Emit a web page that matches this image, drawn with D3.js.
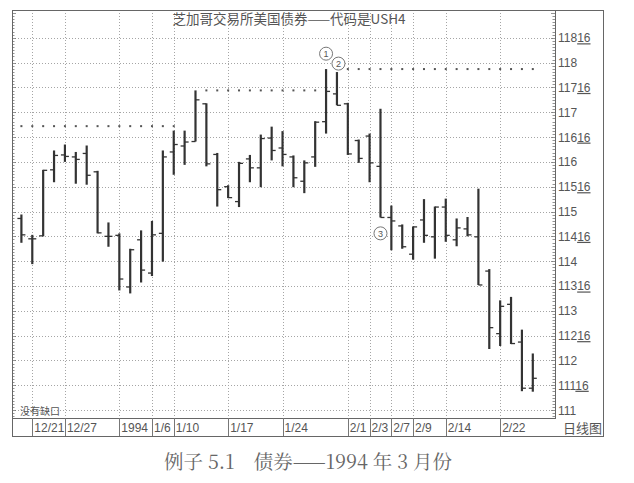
<!DOCTYPE html>
<html><head><meta charset="utf-8">
<script src="https://cdn.jsdelivr.net/npm/d3@7"></script>
<style>body{margin:0;background:#fff}svg{display:block}</style>
</head><body><svg id="c" width="634" height="483"></svg>
<script>
const dates = ["12/20","12/21","12/22","12/23","12/27","12/28","12/29","12/30","12/31","1/3","1/4","1/5","1/6","1/7","1/10","1/11","1/12","1/13","1/14","1/17","1/18","1/19","1/20","1/21","1/24","1/25","1/26","1/27","1/28","1/31","2/1","2/2","2/3","2/4","2/7","2/8","2/9","2/10","2/11","2/14","2/15","2/16","2/17","2/18","2/22","2/23","2/24","2/25"];
const highs = [114.94,114.53,115.84,116.23,116.35,116.20,116.33,115.82,114.78,114.56,114.25,114.62,114.81,116.23,116.63,116.63,117.44,117.18,116.18,115.53,116.00,116.14,116.55,116.71,116.62,116.13,116.03,116.82,117.87,117.81,117.19,116.45,116.57,117.07,115.12,114.74,114.70,115.25,115.10,115.26,114.86,114.89,115.46,113.84,113.21,113.28,112.62,112.14];
const lows = [114.37,113.94,114.50,115.59,116.00,115.56,115.54,114.56,114.29,113.41,113.35,113.57,113.70,113.99,115.74,115.94,116.41,115.91,115.10,115.27,115.09,115.59,115.49,116.03,115.91,115.49,115.37,115.90,116.57,117.14,116.14,115.98,115.59,114.88,114.22,114.25,114.03,114.37,114.05,114.39,114.30,114.50,113.52,112.23,112.29,112.33,111.38,111.37];
const opens = [114.86,114.45,114.51,115.84,116.14,116.10,116.17,115.80,114.50,114.52,113.48,114.43,113.76,114.56,116.20,116.32,116.41,117.17,116.15,115.50,115.20,116.06,115.88,116.48,116.28,116.10,115.61,116.10,116.81,117.37,117.17,116.43,116.52,115.91,114.88,114.71,114.14,114.83,114.49,115.09,114.43,114.65,114.49,113.80,112.54,113.13,112.37,111.44];
const closes = [114.53,114.45,115.83,116.13,116.11,116.05,115.73,114.57,114.50,113.64,114.23,113.82,114.53,116.10,116.35,116.40,117.25,115.96,115.44,115.28,115.97,115.88,116.47,116.23,116.15,115.68,115.98,116.80,117.42,117.14,116.16,116.07,115.98,114.88,114.81,114.29,114.69,114.52,115.09,114.52,114.67,114.53,113.52,112.66,113.09,112.34,111.44,111.64];
const tickDates = ["12/21","12/27","1/3","1/6","1/10","1/17","1/24","2/1","2/3","2/7","2/9","2/14","2/22"];
const tickLabels = ["12/21","12/27","1994","1/6","1/10","1/17","1/24","2/1","2/3","2/7","2/9","2/14","2/22"];
const yTicks = [111,111.5,112,112.5,113,113.5,114,114.5,115,115.5,116,116.5,117,117.5,118,118.5];
const resistLevels = [116.72,117.44,117.87];
const resistFrom = ["12/20","1/13","2/1"];
const resistTo = ["1/10","1/27","2/25"];
const markerLabels = ["1","2","3"];
const markerDates = ["1/28","1/31","2/4"];
const markerPrices = [118.18,117.98,114.56];
const titleText = "芝加哥交易所美国债券——代码是USH4";
const noteText = "没有缺口";
const periodText = "日线图";
const captionText = "例子 5.1　债券——1994 年 3 月份";

const svg = d3.select("#c");
const L = 12, R = 555, T = 10, B = 418, FR = 603, FB = 436;
const x = d3.scaleLinear().domain([-0.864, 49.04]).range([L, R]);
const y = d3.scaleLinear().domain([110.84, 119.06]).range([B, T]);
const xd = d => x(dates.indexOf(d));
const ink = "#333", txt = "#555", grid = "#a5a5a5";

// grid
svg.append("g").selectAll("line").data(yTicks).join("line")
  .attr("x1", L).attr("x2", R).attr("y1", d => Math.round(y(d)) + 0.5).attr("y2", d => Math.round(y(d)) + 0.5)
  .attr("stroke", grid).attr("stroke-width", 1).attr("stroke-dasharray", "1,2");
svg.append("g").selectAll("line").data(tickDates).join("line")
  .attr("x1", d => Math.round(xd(d)) + 0.5).attr("x2", d => Math.round(xd(d)) + 0.5).attr("y1", T).attr("y2", B)
  .attr("stroke", grid).attr("stroke-width", 1).attr("stroke-dasharray", "1,2");

// minor ticks on both vertical axes
const minor = d3.range(Math.ceil(110.84 * 16), Math.floor(119.06 * 16) + 1).map(v => v / 16);
svg.append("g").selectAll("line").data(minor).join("line")
  .attr("x1", R).attr("x2", d => R - (d % 0.5 === 0 ? 4 : 2.5))
  .attr("y1", d => Math.round(y(d)) + 0.5).attr("y2", d => Math.round(y(d)) + 0.5)
  .attr("stroke", "#777").attr("stroke-width", 0.8);
svg.append("g").selectAll("line").data(minor).join("line")
  .attr("x1", L).attr("x2", d => L + (d % 0.5 === 0 ? 4 : 2.5))
  .attr("y1", d => Math.round(y(d)) + 0.5).attr("y2", d => Math.round(y(d)) + 0.5)
  .attr("stroke", "#777").attr("stroke-width", 0.8);

// frame
svg.append("rect").attr("x", L + 0.5).attr("y", T + 0.5).attr("width", FR - L).attr("height", FB - T)
  .attr("fill", "none").attr("stroke", "#666").attr("stroke-width", 1);
svg.append("line").attr("x1", R + 0.5).attr("x2", R + 0.5).attr("y1", T).attr("y2", B)
  .attr("stroke", "#666");
svg.append("line").attr("x1", L).attr("x2", R + 1).attr("y1", B + 0.5).attr("y2", B + 0.5)
  .attr("stroke", "#666");

// x label band separators and labels
svg.append("g").selectAll("line").data(tickDates).join("line")
  .attr("x1", d => Math.round(xd(d)) + 0.5).attr("x2", d => Math.round(xd(d)) + 0.5)
  .attr("y1", B).attr("y2", FB).attr("stroke", "#777");
svg.append("g").selectAll("text").data(tickDates).join("text")
  .attr("x", d => xd(d) + 2).attr("y", 432)
  .attr("font-family", "'Liberation Sans', Arial, sans-serif").attr("font-size", 12)
  .attr("fill", txt).text((d, i) => tickLabels[i]);

// y labels
const yl = svg.append("g").selectAll("text").data(yTicks).join("text")
  .attr("x", R + 3).attr("y", d => y(d) + 4.5)
  .attr("font-family", "'Liberation Sans', Arial, sans-serif").attr("font-size", 12)
  .attr("fill", txt);
yl.append("tspan").text(d => Math.floor(d));
yl.filter(d => d % 1 !== 0).append("tspan").attr("text-decoration", "underline")
  .text(d => String(Math.round((d % 1) * 32)));

// resistance dotted lines (dots at each bar)
resistLevels.forEach((lv, k) => {
  const a = dates.indexOf(resistFrom[k]), b = dates.indexOf(resistTo[k]);
  svg.append("g").selectAll("rect").data(d3.range(a, b + 1)).join("rect")
    .attr("x", i => x(i) - 1).attr("y", y(lv) - 1).attr("width", 2).attr("height", 2)
    .attr("fill", "#555");
});

// OHLC bars
const bars = svg.append("g");
dates.forEach((d, i) => {
  const cx = x(i);
  bars.append("line").attr("x1", cx).attr("x2", cx).attr("y1", y(highs[i])).attr("y2", y(lows[i]))
    .attr("stroke", ink).attr("stroke-width", 2.2);
  bars.append("line").attr("x1", cx - 4).attr("x2", cx).attr("y1", y(opens[i])).attr("y2", y(opens[i]))
    .attr("stroke", ink).attr("stroke-width", 1.3);
  bars.append("line").attr("x1", cx).attr("x2", cx + 4).attr("y1", y(closes[i])).attr("y2", y(closes[i]))
    .attr("stroke", ink).attr("stroke-width", 1.3);
});

// circled markers
const mk = svg.append("g").selectAll("g").data(markerLabels).join("g")
  .attr("transform", (d, i) => `translate(${xd(markerDates[i]) + (i === 1 ? 1.5 : 0)},${y(markerPrices[i])})`);
mk.append("circle").attr("r", 6.5).attr("fill", "#fff").attr("stroke", "#777").attr("stroke-width", 1);
mk.append("text").attr("text-anchor", "middle").attr("y", 3.5)
  .attr("font-family", "'Liberation Sans', Arial, sans-serif").attr("font-size", 9).attr("fill", "#555")
  .text(d => d);

// texts
svg.append("text").attr("x", 289).attr("y", 24).attr("text-anchor", "middle")
  .attr("font-family", "'Noto Sans CJK SC', sans-serif").attr("font-size", 13.5).attr("fill", "#555")
  .text(titleText);
svg.append("text").attr("x", 20).attr("y", 415)
  .attr("font-family", "'Noto Sans CJK SC', sans-serif").attr("font-size", 10).attr("fill", "#555")
  .text(noteText);
svg.append("text").attr("x", 563).attr("y", 433)
  .attr("font-family", "'Noto Sans CJK SC', sans-serif").attr("font-size", 13).attr("fill", "#555")
  .text(periodText);
svg.append("text").attr("x", 308).attr("y", 469).attr("text-anchor", "middle")
  .attr("font-family", "'Noto Serif CJK SC', 'DejaVu Serif', 'Noto Sans CJK SC', serif").attr("font-size", 19.5).attr("fill", "#666")
  .text(captionText);
</script></body></html>
